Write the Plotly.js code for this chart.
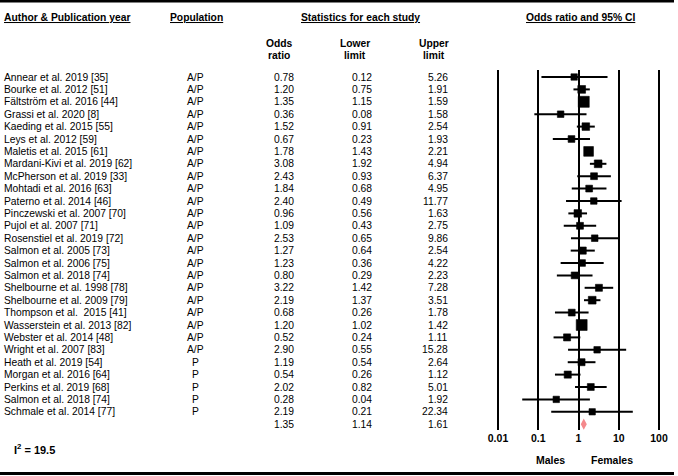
<!DOCTYPE html>
<html>
<head>
<meta charset="utf-8">
<script src="https://cdn.plot.ly/plotly-3.0.1.min.js"></script>
<style>html,body{margin:0;padding:0;background:#fff;}#chart{width:678px;height:476px;}</style>
</head>
<body>
<div id="chart"></div>
<script>
const studies = [
  "Annear et al. 2019 [35]", "Bourke et al. 2012 [51]", "Fältström et al. 2016 [44]", "Grassi et al. 2020 [8]",
  "Kaeding et al. 2015 [55]", "Leys et al. 2012 [59]", "Maletis et al. 2015 [61]", "Mardani-Kivi et al. 2019 [62]",
  "McPherson et al. 2019 [33]", "Mohtadi et al. 2016 [63]", "Paterno et al. 2014 [46]", "Pinczewski et al. 2007 [70]",
  "Pujol et al. 2007 [71]", "Rosenstiel et al. 2019 [72]", "Salmon et al. 2005 [73]", "Salmon et al. 2006 [75]",
  "Salmon et al. 2018 [74]", "Shelbourne et al. 1998 [78]", "Shelbourne et al. 2009 [79]", "Thompson et al.  2015 [41]",
  "Wasserstein et al. 2013 [82]", "Webster et al. 2014 [48]", "Wright et al. 2007 [83]", "Heath et al. 2019 [54]",
  "Morgan et al. 2016 [64]", "Perkins et al. 2019 [68]", "Salmon et al. 2018 [74]", "Schmale et al. 2014 [77]"
];
const population = [
  "A/P","A/P","A/P","A/P","A/P","A/P","A/P","A/P","A/P","A/P","A/P","A/P","A/P","A/P","A/P","A/P",
  "A/P","A/P","A/P","A/P","A/P","A/P","A/P","P","P","P","P","P"
];
const oddsRatio = [0.78,1.20,1.35,0.36,1.52,0.67,1.78,3.08,2.43,1.84,2.40,0.96,1.09,2.53,1.27,1.23,0.80,3.22,2.19,0.68,1.20,0.52,2.90,1.19,0.54,2.02,0.28,2.19];
const lowerLimit = [0.12,0.75,1.15,0.08,0.91,0.23,1.43,1.92,0.93,0.68,0.49,0.56,0.43,0.65,0.64,0.36,0.29,1.42,1.37,0.26,1.02,0.24,0.55,0.54,0.26,0.82,0.04,0.21];
const upperLimit = [5.26,1.91,1.59,1.58,2.54,1.93,2.21,4.94,6.37,4.95,11.77,1.63,2.75,9.86,2.54,4.22,2.23,7.28,3.51,1.78,1.42,1.11,15.28,2.64,1.12,5.01,1.92,22.34];
const pooled = {or: 1.35, lower: 1.14, upper: 1.61};
const heterogeneity = "19.5";
const tickValues = [0.01, 0.1, 1, 10, 100];
const tickLabels = ["0.01", "0.1", "1", "10", "100"];

const W = 678, H = 476;
const FONT = "Liberation Sans, Arial, sans-serif";
const px = x => x / W;
const py = y => 1 - y / H;
const fmt = v => v.toFixed(2);

const rows = studies.map((_, i) => i);
const summaryRow = studies.length;

// box size from inverse variance weight
const weights = lowerLimit.map((l, i) => {
  const se = (Math.log(upperLimit[i]) - Math.log(l)) / 3.92;
  return 1 / (se * se);
});
const wmax = Math.max(...weights);
const sizes = weights.map(w => 6 + 5 * Math.sqrt(w / wmax));

const errorTrace = {
  type: "scatter", mode: "markers",
  x: oddsRatio, y: rows,
  marker: {size: 0.1, color: "rgba(0,0,0,0)"},
  error_x: {
    type: "data", symmetric: false,
    array: oddsRatio.map((v, i) => upperLimit[i] - v),
    arrayminus: oddsRatio.map((v, i) => v - lowerLimit[i]),
    color: "#000", thickness: 2, width: 0
  },
  cliponaxis: false, hoverinfo: "skip", showlegend: false
};

const boxTrace = {
  type: "scatter", mode: "markers",
  x: oddsRatio, y: rows,
  marker: {symbol: "square", color: "#000", opacity: 1, size: sizes, line: {width: 0.6, color: "#000"}},
  cliponaxis: false, hoverinfo: "skip", showlegend: false
};

const dh = 0.45;
const diamond = {
  type: "scatter", mode: "lines",
  x: [pooled.lower, pooled.or, pooled.upper, pooled.or, pooled.lower],
  y: [summaryRow, summaryRow - dh, summaryRow, summaryRow + dh, summaryRow],
  fill: "toself", fillcolor: "#f4898c", line: {width: 0, color: "#f4898c"},
  cliponaxis: false, hoverinfo: "skip", showlegend: false
};

const annotations = [];
const txt = (text, x, y, opts = {}) => annotations.push(Object.assign({
  text, x, y, xref: "paper", yref: "paper", showarrow: false,
  xanchor: "center", yanchor: "middle",
  font: {family: FONT, size: 10.3, color: "#000"}
}, opts));

// headers
const hb = {family: FONT, size: 10.3, color: "#000", weight: "bold"};
txt("<b><u>Author &amp; Publication year</u></b>", px(2), py(18), {xanchor: "left", font: hb});
txt("<b><u>Population</u></b>", px(196), py(18), {font: hb});
txt("<b><u>Statistics for each study</u></b>", px(360), py(18), {font: hb});
txt("<b><u>Odds ratio and 95% CI</u></b>", px(580), py(18), {font: hb});
txt("<b>Odds</b>", px(279), py(43), {font: hb});
txt("<b>ratio</b>", px(279), py(55), {font: hb});
txt("<b>Lower</b>", px(355), py(43), {font: hb});
txt("<b>limit</b>", px(355), py(55), {font: hb});
txt("<b>Upper</b>", px(434), py(43), {font: hb});
txt("<b>limit</b>", px(434), py(55), {font: hb});

// rows
studies.forEach((s, i) => {
  txt(s, px(2), i, {xanchor: "left", yref: "y"});
  txt(population[i], px(195), i, {yref: "y"});
  txt(fmt(oddsRatio[i]), px(296), i, {xanchor: "right", yref: "y"});
  txt(fmt(lowerLimit[i]), px(374), i, {xanchor: "right", yref: "y"});
  txt(fmt(upperLimit[i]), px(450), i, {xanchor: "right", yref: "y"});
});
txt(fmt(pooled.or), px(296), summaryRow, {xanchor: "right", yref: "y"});
txt(fmt(pooled.lower), px(374), summaryRow, {xanchor: "right", yref: "y"});
txt(fmt(pooled.upper), px(450), summaryRow, {xanchor: "right", yref: "y"});

txt("<b>I<sup>2</sup> = " + heterogeneity + "</b>", px(12), py(449), {xanchor: "left", font: {family: FONT, size: 11, color: "#000", weight: "bold"}});
txt("<b>Males</b>", px(550), py(460), {font: {family: FONT, size: 10.5, color: "#000", weight: "bold"}});
txt("<b>Females</b>", px(612), py(460), {font: {family: FONT, size: 10.5, color: "#000", weight: "bold"}});

// axis geometry: row 0 at 77px, row spacing 12.4px, plot band 70..430px
const rowTop = 77, rowStep = 12.4, bandTop = 70, bandBot = 430;
const yRange = [(bandBot - rowTop) / rowStep, (bandTop - rowTop) / rowStep];
const xPerDecade = 40.25, xAtOne = 578.5;
const xRange = [-xAtOne / xPerDecade, (W - xAtOne) / xPerDecade];

const layout = {
  width: W, height: H,
  margin: {l: 0, r: 0, t: 0, b: 0},
  paper_bgcolor: "#fff", plot_bgcolor: "rgba(0,0,0,0)",
  showlegend: false,
  xaxis: {
    type: "log", range: xRange, domain: [0, 1],
    tickvals: tickValues, ticktext: tickLabels,
    showgrid: true, gridcolor: "#000", gridwidth: 2,
    zeroline: false, showline: false, ticks: "",
    tickfont: {family: FONT, size: 10.5, color: "#000", weight: "bold"},
    fixedrange: true
  },
  yaxis: {
    range: yRange, domain: [1 - bandBot / H, 1 - bandTop / H],
    visible: false, showgrid: false, zeroline: false, fixedrange: true
  },
  shapes: [
    {type: "line", xref: "paper", yref: "paper", x0: 0, x1: px(674), y0: py(1), y1: py(1), line: {color: "#000", width: 3}},
    {type: "line", xref: "paper", yref: "paper", x0: 0, x1: px(674), y0: py(473.5), y1: py(473.5), line: {color: "#000", width: 3}}
  ],
  annotations
};

Plotly.newPlot("chart", [errorTrace, boxTrace, diamond], layout, {staticPlot: true, displayModeBar: false});
</script>
</body>
</html>
